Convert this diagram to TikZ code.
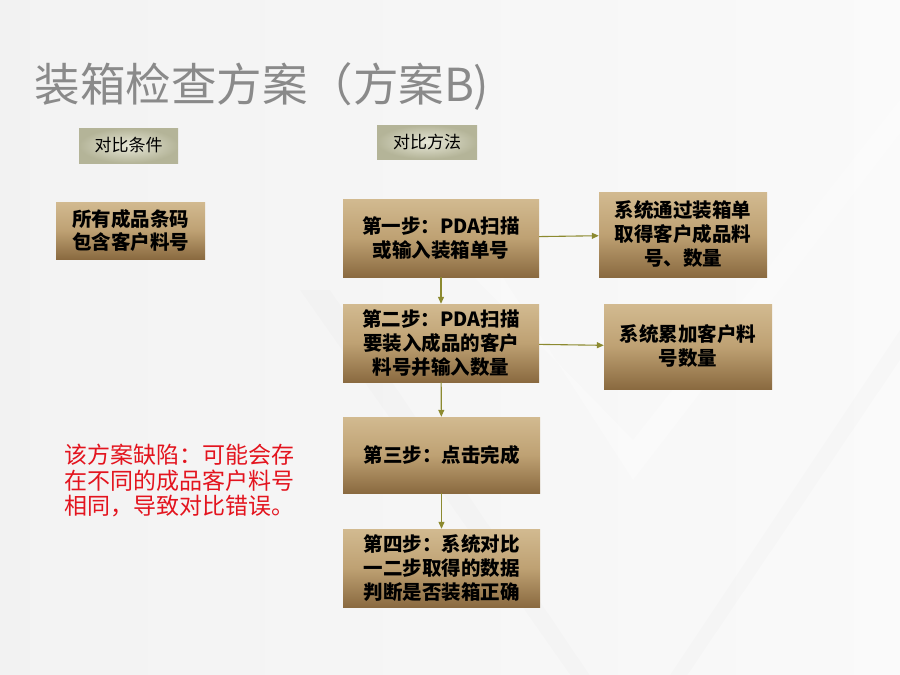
\documentclass[tikz,border=0pt]{standalone}
\usepackage{fontspec}
\newfontfamily\cjk{Noto Sans CJK SC}
\usepackage{xcolor}
\usepackage{tikz}
\usetikzlibrary{positioning}
\usetikzlibrary{arrows.meta}

\definecolor{titlegray}{HTML}{8A8A8A}
\definecolor{boxtop}{HTML}{D2BA90}
\definecolor{boxmid}{HTML}{BEA173}
\definecolor{boxbot}{HTML}{8A6A40}
\definecolor{tagin}{HTML}{E8E8D8}
\definecolor{tagout}{HTML}{B4B498}
\definecolor{arrowolive}{HTML}{8C8A30}
\definecolor{faultred}{HTML}{E3141E}

\tikzset{
	stepbox/.style={minimum width=196pt,minimum height=78pt,inner sep=2pt,
		top color=boxtop,bottom color=boxbot,middle color=boxmid,
		align=center,font=\cjk\bfseries\fontsize{19.5}{24}\selectfont},
	tagbox/.style={minimum width=99pt,minimum height=35pt,inner sep=2pt,
		inner color=tagin,outer color=tagout,
		font=\cjk\fontsize{17}{20}\selectfont},
	flowarrow/.style={draw=arrowolive,line width=1.1pt,
		-{Triangle[length=7pt,width=6pt]}}
}

\begin{document}
\begin{tikzpicture}[x=1pt,y=-1pt]
	
	\useasboundingbox (0,0) rectangle (900,675);
	
	\shade [left color=black!5,right color=black!2] (0,0) rectangle (900,675);
	
	\fill [white,opacity=.3] (500,273) -- (633,480) -- (900,133) -- (900,100) -- (633,440) -- (470,273) -- cycle;
	
	\fill [black,opacity=.012] (330,290) -- (630,735) -- (900,330) -- (900,360) -- (630,760) -- (300,290) -- cycle;
	
	\node [anchor=west,text=titlegray,font=\cjk\fontsize{45.5}{50}\selectfont] (title) at (31,86) {装箱检查方案（方案B)};
	
	\node [tagbox] (cond tag) at (128.5,145.5) {对比条件};
	
	\node [tagbox,minimum width=100pt,minimum height=34pt] (method tag) at (427,142) {对比方法};
	
	\node [stepbox,minimum width=149pt,minimum height=57pt,font=\cjk\bfseries\fontsize{19.5}{23}\selectfont] (cond) at (130.5,230.5) {所有成品条码\\包含客户料号};
	
	\node [stepbox] (step1) at (441,238) {第一步：PDA扫描\\或输入装箱单号};
	
	\node [stepbox,minimum width=168pt,minimum height=85pt] (sys1) at (683,234.5) {系统通过装箱单\\取得客户成品料\\号、数量};
	
	\node [stepbox] (step2) at (441,343) {第二步：PDA扫描\\要装入成品的客户\\料号并输入数量};
	
	\node [stepbox,minimum width=168pt,minimum height=85pt] (sys2) at (688,346.5) {系统累加客户料\\号数量};
	
	\node [stepbox,minimum width=197pt,minimum height=76pt] (step3) at (441.5,455) {第三步：点击完成};
	
	\node [stepbox,minimum width=197pt] (step4) at (441.5,568) {第四步：系统对比\\一二步取得的数据\\判断是否装箱正确};
	
	\node [anchor=north west,align=left,inner sep=0pt,text=faultred,font=\cjk\fontsize{23}{25.5}\selectfont] (fault) at (64,444) {该方案缺陷：可能会存\\在不同的成品客户料号\\相同，导致对比错误。};
	
	\draw [flowarrow] (step1) -- (sys1);
	\draw [flowarrow] (step2) -- (sys2);
	\draw [flowarrow] (step1) -- (step2);
	\draw [flowarrow] (step2) -- (step3);
	\draw [flowarrow] (step3) -- (step4);
	
\end{tikzpicture}
\end{document}
